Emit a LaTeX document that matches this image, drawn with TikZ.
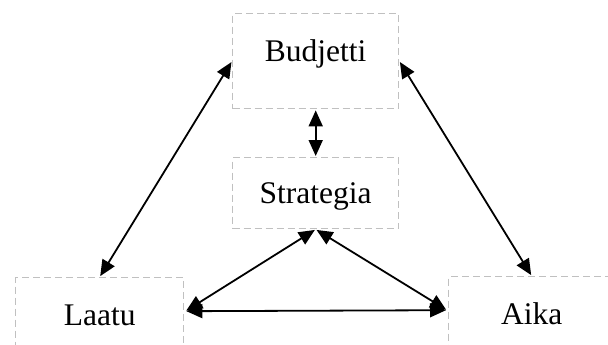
\documentclass[tikz,border=0pt]{standalone}
\usepackage{fontspec}
\setmainfont{Liberation Serif}
\usetikzlibrary{arrows.meta,calc}
\definecolor{boxgray}{RGB}{192,192,192}
\tikzset{
  factor/.style={draw=boxgray, line width=1.4pt, dash pattern=on 7pt off 4pt,
    inner sep=0pt, minimum width=166pt, text height=48pt, text depth=47pt,
    font=\fontsize{31.5}{36}\selectfont},
  link/.style={line width=1.8pt, {Triangle[length=16pt,width=14pt]}-{Triangle[length=16pt,width=14pt]}, shorten <=1pt, shorten >=1pt}
}
\begin{document}
\begin{tikzpicture}[x=1pt,y=-1pt]
  \useasboundingbox (0,0) rectangle (608,345);
  \clip (0,0) rectangle (608,345);
  % four factors of the triangle and the strategy in its middle
  \node[factor, anchor=north west] (budjetti) at (232,13) {Budjetti};
  \node[factor, anchor=north west, text height=45.5pt, text depth=25.5pt] (strategia) at (232,157) {Strategia};
  \node[factor, anchor=north west, minimum width=168pt] (laatu) at (15,277) {Laatu};
  \node[factor, anchor=north west] (aika) at (448,276) {Aika};
  % attachment points on the lower boxes
  \coordinate (laatuE) at ($(laatu.east)+(1,-14)$);
  \coordinate (aikaW) at ($(aika.west)+(-1,-14)$);
  % connectors
  \draw[link] (budjetti.south) -- (strategia.north);
  \draw[link] (budjetti.west) -- (laatu.north);
  \draw[link] (budjetti.east) -- (aika.north);
  \draw[link] (strategia.south) -- (laatuE);
  \draw[link] (strategia.south) -- (aikaW);
  \draw[link] (laatuE) -- (aikaW);
\end{tikzpicture}
\end{document}
